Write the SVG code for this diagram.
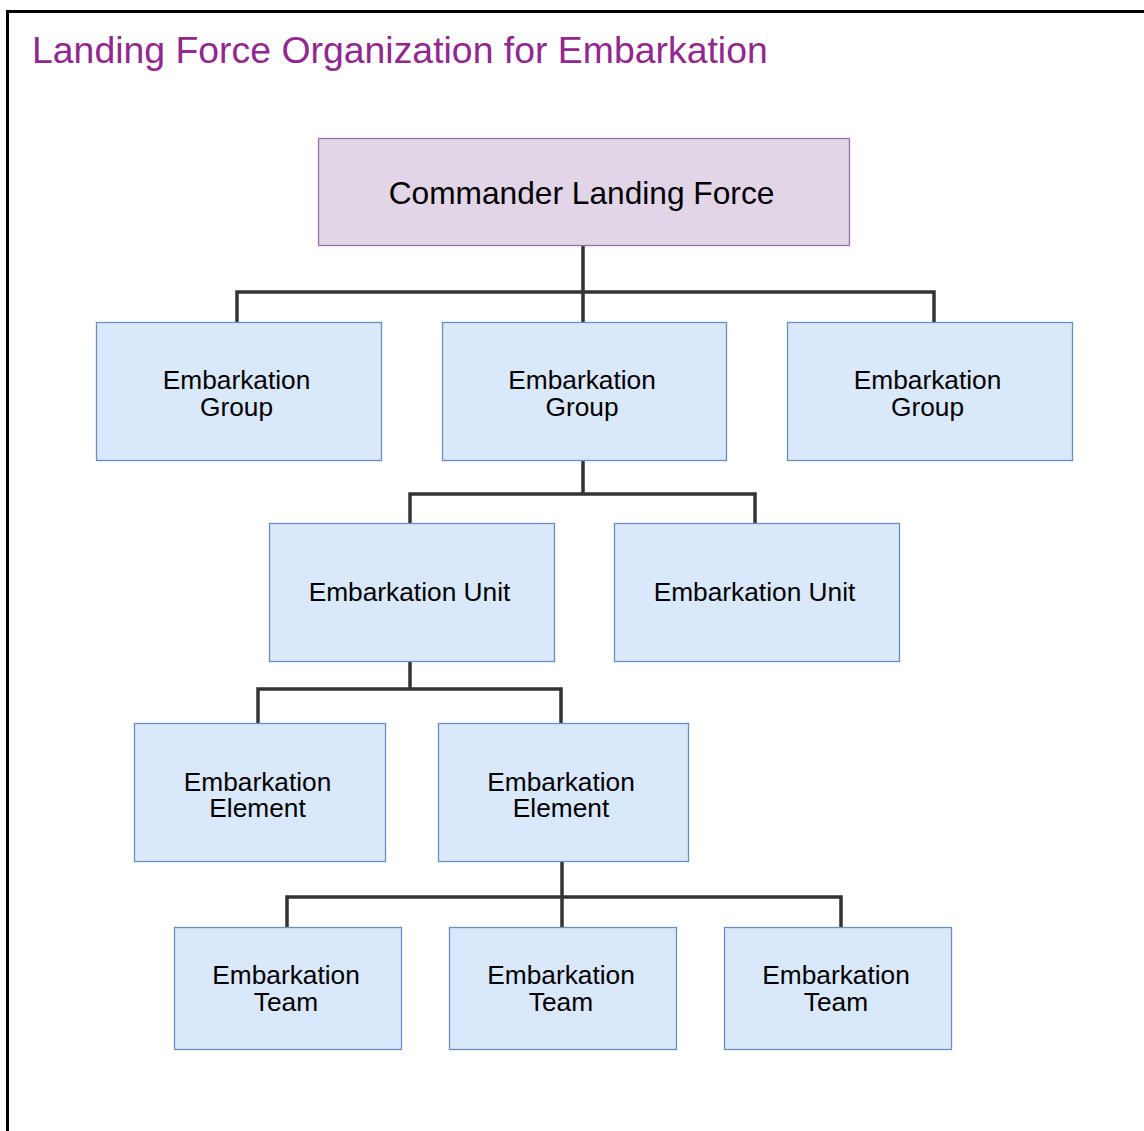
<svg xmlns="http://www.w3.org/2000/svg" width="1144" height="1131" viewBox="0 0 1144 1131">
<style>
.t{font-family:"Liberation Sans",Arial,sans-serif;fill:#000;text-anchor:middle}
.n{font-size:26.3px}
.b{fill:#dae8fc;stroke:#6c8ebf;stroke-width:1.3}
.c{fill:none;stroke:#333;stroke-width:3.5}
</style>
<rect width="1144" height="1131" fill="#fff"/>
<path d="M7.5,1131 V11.5 H1144" fill="none" stroke="#000" stroke-width="3"/>
<text x="32" y="63" font-family="Liberation Sans,Arial,sans-serif" font-size="37.4" fill="#92278f">Landing Force Organization for Embarkation</text>
<g id="connectors">
<path class="c" d="M583,245 V292 M237,322 V292 H934 V322 M583,292 V322"/>
<path class="c" d="M583,460 V494 M410,523 V494 H755 V523"/>
<path class="c" d="M410,661 V689 M258,723 V689 H561 V723"/>
<path class="c" d="M562,861 V927 M287,927 V897 H841 V927"/>
</g>
<g id="commander"><rect x="318.5" y="138.5" width="531" height="107" fill="#e1d5e7" stroke="#9673a6" stroke-width="1.3"/><text class="t" x="581.5" y="204" font-size="31.7">Commander Landing Force</text></g>
<g id="group1"><rect class="b" x="96.5" y="322.5" width="285" height="138"/><text class="t n" x="236.5" y="389">Embarkation</text><text class="t n" x="236.5" y="416">Group</text></g>
<g id="group2"><rect class="b" x="442.5" y="322.5" width="284" height="138"/><text class="t n" x="582" y="389">Embarkation</text><text class="t n" x="582" y="416">Group</text></g>
<g id="group3"><rect class="b" x="787.5" y="322.5" width="285" height="138"/><text class="t n" x="927.5" y="389">Embarkation</text><text class="t n" x="927.5" y="416">Group</text></g>
<g id="unit1"><rect class="b" x="269.5" y="523.5" width="285" height="138"/><text class="t n" x="409.5" y="601">Embarkation Unit</text></g>
<g id="unit2"><rect class="b" x="614.5" y="523.5" width="285" height="138"/><text class="t n" x="754.5" y="601">Embarkation Unit</text></g>
<g id="element1"><rect class="b" x="134.5" y="723.5" width="251" height="138"/><text class="t n" x="257.5" y="791">Embarkation</text><text class="t n" x="257.5" y="817">Element</text></g>
<g id="element2"><rect class="b" x="438.5" y="723.5" width="250" height="138"/><text class="t n" x="561" y="791">Embarkation</text><text class="t n" x="561" y="817">Element</text></g>
<g id="team1"><rect class="b" x="174.5" y="927.5" width="227" height="122"/><text class="t n" x="286" y="984">Embarkation</text><text class="t n" x="286" y="1011">Team</text></g>
<g id="team2"><rect class="b" x="449.5" y="927.5" width="227" height="122"/><text class="t n" x="561" y="984">Embarkation</text><text class="t n" x="561" y="1011">Team</text></g>
<g id="team3"><rect class="b" x="724.5" y="927.5" width="227" height="122"/><text class="t n" x="836" y="984">Embarkation</text><text class="t n" x="836" y="1011">Team</text></g>
</svg>
